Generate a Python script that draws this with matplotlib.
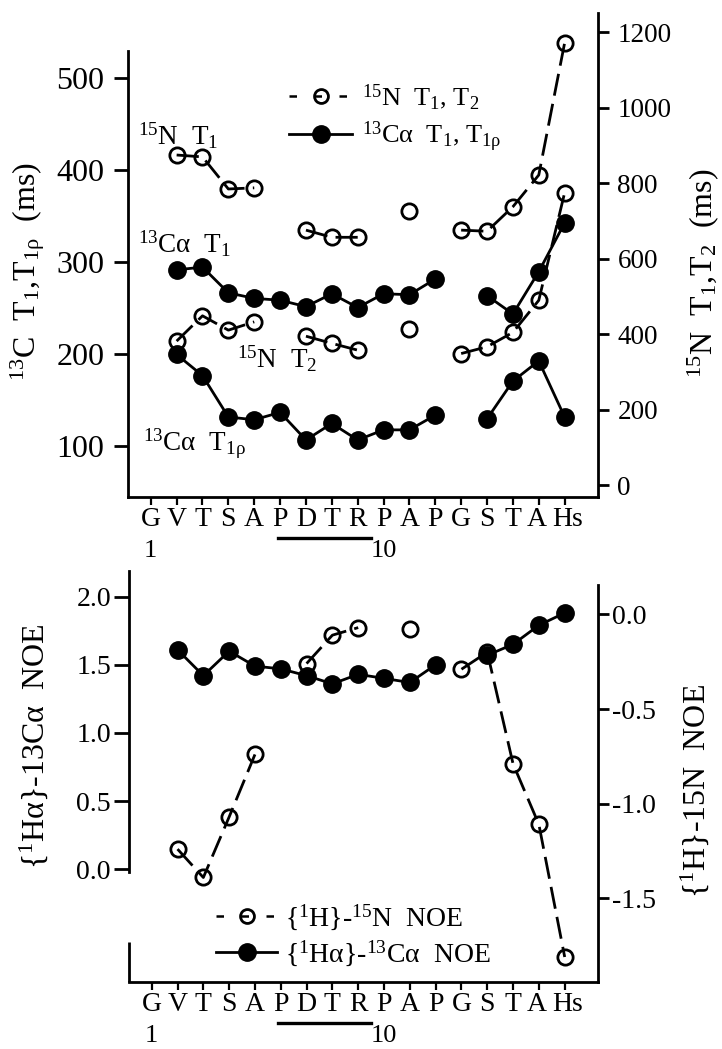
import numpy as np
import matplotlib
matplotlib.use("Agg")
import matplotlib.pyplot as plt
from matplotlib.lines import Line2D
from matplotlib import transforms

plt.rcParams['font.family'] = ['Liberation Serif', 'DejaVu Serif']
plt.rcParams['mathtext.fontset'] = 'custom'
plt.rcParams['mathtext.rm'] = 'Liberation Serif'
plt.rcParams['mathtext.it'] = 'Liberation Serif'
plt.rcParams['mathtext.bf'] = 'Liberation Serif:bold'
plt.rcParams['axes.unicode_minus'] = False

nan = np.nan

# ---------------- data ----------------
residues = ['G', 'V', 'T', 'S', 'A', 'P', 'D', 'T', 'R', 'P', 'A', 'P', 'G', 'S', 'T', 'A', 'Hs']
residue_numbers = {1: '1', 10: '10'}
underlined = (6, 9)   # P D T R

# top panel (ms)
n15_t1 = [nan, 875, 870, 785, 788, nan, 676, 657, 657, nan, 727, nan, 676, 673, 738, 822, 1172]
n15_t2 = [nan, 382, 449, 411, 433, nan, 395, 376, 358, nan, 413, nan, 349, 367, 405, 490, 775]
c13_t1 = [nan, 291, 294, 266, 260, 258, 251, 265, 250, 265, 264, 281, nan, 263, 243, 289, 342]
c13_t1rho = [nan, 199, 176, 131, 128, 136, 106, 124, 106, 117, 117, 133, nan, 129, 170, 192, 131]

# bottom panel (NOE)
noe_c13 = [nan, 1.61, 1.42, 1.60, 1.49, 1.47, 1.42, 1.36, 1.43, 1.40, 1.37, 1.50, nan, 1.57, 1.65, 1.79, 1.88]
noe_n15 = [nan, -1.24, -1.39, -1.07, -0.74, nan, -0.26, -0.11, -0.07, nan, -0.08, nan, -0.29, -0.20, -0.79, -1.11, -1.81]

top_left_ticks = [100, 200, 300, 400, 500]
top_right_ticks = [0, 200, 400, 600, 800, 1000, 1200]
bot_left_ticks = [0.0, 0.5, 1.0, 1.5, 2.0]
bot_right_ticks = [-1.5, -1.0, -0.5, 0.0]

# ---------------- layout ----------------
W, H = 722, 1049
fig = plt.figure(figsize=(W / 100, H / 100), dpi=100)


def fx(px):
    return px / W


def fy(py):
    return 1 - py / H


def box(x0, x1, ytop, ybot):
    return [fx(x0), fy(ybot), fx(x1) - fx(x0), fy(ytop) - fy(ybot)]


x = np.arange(1, len(residues) + 1)
XLIM = (0.12, 18.29)
LW = 2.0
DASH = (0, (8, 3))
ms_fill = 12.5
ms_open = 11

ax1 = fig.add_axes(box(128, 598, 51, 497))
ax1r = fig.add_axes(box(128, 598, 12.7, 497))
ax2 = fig.add_axes(box(129, 598, 570.7, 982))
ax2r = fig.add_axes(box(129, 598, 585, 982))

for a in (ax1, ax1r, ax2, ax2r):
    a.set_xlim(*XLIM)
    a.patch.set_visible(False)
    for s in a.spines.values():
        s.set_linewidth(2.0)

for a in (ax1, ax2):
    a.spines['top'].set_visible(False)
    a.spines['right'].set_visible(False)
    a.set_xticks(x)
    a.set_xticklabels(residues, fontsize=20)
    a.tick_params(axis='x', direction='out', length=6, width=1.6, pad=1.5)
    labs = a.get_xticklabels()
    # small horizontal nudges so that "A Hs" do not collide (as in the original)
    labs[-1].set_transform(labs[-1].get_transform() +
                           transforms.ScaledTranslation(3 / 100, 0, fig.dpi_scale_trans))
    labs[-2].set_transform(labs[-2].get_transform() +
                           transforms.ScaledTranslation(-2 / 100, 0, fig.dpi_scale_trans))

for a in (ax1r, ax2r):
    for k in ('top', 'left', 'bottom'):
        a.spines[k].set_visible(False)
    a.yaxis.tick_right()
    a.set_xticks([])

# ---------- top panel ----------
ax1.plot(x, c13_t1, color='k', lw=LW, marker='o', ms=ms_fill, clip_on=False, zorder=3)
ax1.plot(x, c13_t1rho, color='k', lw=LW, marker='o', ms=ms_fill, clip_on=False, zorder=3)
ax1r.plot(x, n15_t1, color='k', lw=LW, ls=DASH, marker='o', ms=ms_open, mfc='none', mew=2.0, clip_on=False)
ax1r.plot(x, n15_t2, color='k', lw=LW, ls=DASH, marker='o', ms=ms_open, mfc='none', mew=2.0, clip_on=False)

ax1.set_ylim(44, 529)
ax1.set_yticks(top_left_ticks)
ax1.tick_params(axis='y', direction='out', length=10, width=2.0, pad=7, labelsize=23)
ax1r.set_ylim(-31, 1252)
ax1r.set_yticks(top_right_ticks)
ax1r.tick_params(axis='y', direction='out', length=8, width=2.0, pad=6, labelsize=19.5)

# ---------- bottom panel ----------
ax2.plot(x, noe_c13, color='k', lw=LW, marker='o', ms=ms_fill, clip_on=False, zorder=3)
ax2r.plot(x, noe_n15, color='k', lw=LW, ls=DASH, marker='o', ms=ms_open, mfc='none', mew=2.0, clip_on=False)

ax2.set_ylim(-0.827, 2.19)
ax2.set_yticks(bot_left_ticks)
ax2.set_yticklabels([f'{v:.1f}' for v in bot_left_ticks])
ax2.tick_params(axis='y', direction='out', length=11, width=2.0, pad=2, labelsize=20)
ax2r.set_ylim(-1.942, 0.155)
ax2r.set_yticks(bot_right_ticks)
ax2r.set_yticklabels([f'{v:.1f}' for v in bot_right_ticks])
ax2r.tick_params(axis='y', direction='out', length=8, width=2.0, pad=2, labelsize=20)

# broken left spine of the lower panel (as in the scanned original)
ax2.spines['left'].set_bounds(-0.02, 2.19)
tr_l = transforms.blended_transform_factory(ax2.transAxes, ax2.transData)
ax2.plot([0, 0], [-0.827, -0.533], color='k', lw=2.0, transform=tr_l, clip_on=False,
         solid_capstyle='butt')

# residue numbers and underline under the x axes
for a in (ax1, ax2):
    for pos, lab in residue_numbers.items():
        a.annotate(lab, xy=(pos, 0), xycoords=('data', 'axes fraction'),
                   xytext=(0, -43.5), textcoords='offset points',
                   ha='center', va='baseline', fontsize=19)
    tr = transforms.offset_copy(transforms.blended_transform_factory(a.transData, a.transAxes),
                                fig=fig, y=-29.5, units='points')
    a.plot([underlined[0] - 0.1, underlined[1] + 0.5], [0, 0], color='k', lw=2.4,
           transform=tr, clip_on=False)

# ---------- labels ----------
fig.text(fx(28), fy(272), r'$^{13}$C  T$_1$,T$_{1ρ}$  (ms)', rotation=90,
         ha='center', va='center', fontsize=23)
fig.text(fx(703), fy(273), r'$^{15}$N  T$_1$,T$_2$  (ms)', rotation=90,
         ha='center', va='center', fontsize=23)
fig.text(fx(34), fy(746), r'{$^1$Hα}-13Cα  NOE', rotation=90,
         ha='center', va='center', fontsize=23)
fig.text(fx(695), fy(791), r'{$^1$H}-15N  NOE', rotation=90,
         ha='center', va='center', fontsize=23)

# in-plot annotations
ann = dict(ha='left', va='baseline', fontsize=19.5)
fig.text(fx(138), fy(145), r'$^{15}$N  T$_1$', **ann)
fig.text(fx(138), fy(253), r'$^{13}$Cα  T$_1$', **ann)
fig.text(fx(237), fy(368), r'$^{15}$N  T$_2$', **ann)
fig.text(fx(143), fy(451), r'$^{13}$Cα  T$_{1ρ}$', **ann)

# ---------- legends ----------
h_open = Line2D([], [], color='k', lw=1.8, ls=(0, (3.0, 7.0)), marker='o', ms=ms_open - 1,
                mfc='none', mew=2.0)
h_fill = Line2D([], [], color='k', lw=LW, marker='o', ms=ms_fill)

leg1 = ax1.legend([h_open, h_fill],
                  [r'$^{15}$N  T$_1$, T$_2$', r'$^{13}$Cα  T$_1$, T$_{1ρ}$'],
                  loc='upper left', bbox_to_anchor=(fx(289), fy(82)),
                  bbox_transform=fig.transFigure, frameon=False, fontsize=19,
                  handlelength=2.4, handletextpad=0.35, labelspacing=0.3,
                  borderpad=0, borderaxespad=0, numpoints=1)
leg2 = ax2.legend([h_open, h_fill],
                  [r'{$^1$H}-$^{15}$N  NOE', r'{$^1$Hα}-$^{13}$Cα  NOE'],
                  loc='upper left', bbox_to_anchor=(fx(216), fy(902)),
                  bbox_transform=fig.transFigure, frameon=False, fontsize=20,
                  handlelength=2.2, handletextpad=0.3, labelspacing=0.25,
                  borderpad=0, borderaxespad=0, numpoints=1)

fig.savefig('out.png', dpi=100)
